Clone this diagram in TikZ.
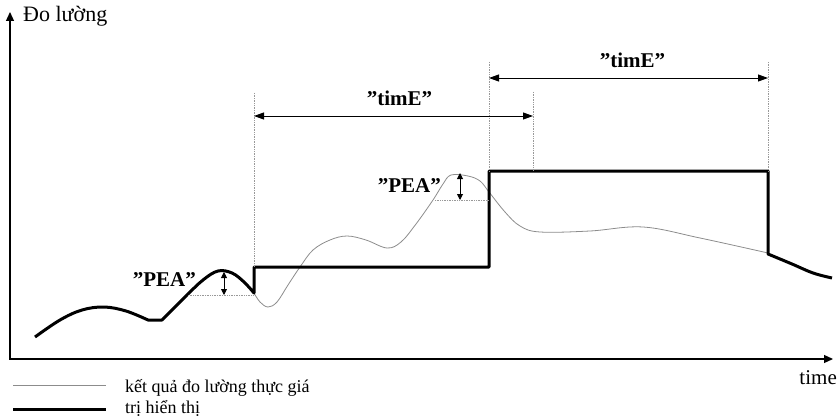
\documentclass[tikz,border=0pt]{standalone}
\usepackage{fontspec}
\setmainfont{Liberation Serif}
\usetikzlibrary{arrows.meta, positioning}

\begin{document}
\begin{tikzpicture}[x=1pt, y=-1pt,
    >={Triangle[length=10pt,width=7pt]},
    every node/.style={inner sep=0pt, font=\fontsize{21}{25}\selectfont},
    axis/.style={line width=1.2pt, {Triangle[length=9pt,width=8pt]}-{Triangle[length=9pt,width=8pt]}},
    measured/.style={draw=gray!90, line width=0.8pt},
    shown/.style={line width=3pt, line join=round},
    guide/.style={draw=gray!80, densely dotted, line width=0.7pt},
    span/.style={<->, line width=0.9pt},
    peak/.style={{Triangle[length=6pt,width=6pt]}-{Triangle[length=6pt,width=6pt]}, line width=0.9pt},
    tag/.style={font=\bfseries\fontsize{21}{25}\selectfont},
    legend/.style={font=\fontsize{18}{21}\selectfont}]

    \useasboundingbox (0,0) rectangle (840,417);

    % axes
    \coordinate (ytip)   at (10,12);
    \coordinate (xtip)   at (833,359);
    \draw[axis] (ytip) |- (xtip);
    \node[anchor=base west, font=\fontsize{22}{26}\selectfont] (ylab) at (23,22)  {Đo lường};
    \node[anchor=base east] (xlab) at (837,384) {time};

    % step corners
    \coordinate (up1)   at (254,267);
    \coordinate (flat1) at (489,267);
    \coordinate (up2)   at (489,171);
    \coordinate (mid2)  at (533,171);
    \coordinate (down2) at (768,171);
    \coordinate (fall)  at (768,254);

    % measured value
    \draw[measured] plot[smooth, tension=0.6] coordinates {(254,293) (260,302) (268,307) (277,302)
        (288,285) (300,267) (313,250) (330,240) (347,236) (366,240) (387,248) (401,242)
        (416,224) (433,200) (443,184) (451,175) (468,176) (480,181) (489,192) (505,212)
        (520,226) (540,232) (590,231) (643,227) (700,238) (768,253)};

    % shown value
    \draw[shown] plot[smooth, tension=0.6] coordinates {(35,337) (60,320) (82,310) (104,307) (126,311) (148,320)}
        -- plot[smooth, tension=0.6] coordinates {(162,320) (185,297) (203,280) (218,271) (232,273) (244,282) (254,293)}
        -- (up1) -- (flat1) -- (up2) -- (down2) -- (fall)
        -- plot[smooth, tension=0.6] coordinates {(768,254) (792,264) (813,273) (832,278)};

    % guides
    \coordinate (g1) at (254,93);
    \coordinate (g2) at (533,92);
    \coordinate (g3) at (489,62);
    \coordinate (g4) at (768,62);
    \coordinate (p1l) at (188,295);
    \coordinate (p1r) at (253,295);
    \coordinate (p2l) at (435,200);
    \coordinate (p2r) at (489,200);
    \path[guide] (g1) edge (up1) (g2) edge (mid2) (g3) edge (up2) (g4) edge (down2)
        (p1l) edge (p1r) (p2l) edge (p2r);

    % spans
    \coordinate (s1l) at (254,116);
    \coordinate (s1r) at (533,116);
    \coordinate (s2l) at (489,78);
    \coordinate (s2r) at (768,78);
    \path[span]
    (s1l) edge node[tag, above=10pt, xshift=6pt] {”timE”} (s1r)
    (s2l) edge node[tag, above=10pt, xshift=4pt] {”timE”} (s2r);

    % peaks
    \coordinate (a1t) at (224,272);
    \coordinate (a1b) at (224,295);
    \coordinate (a2t) at (460,173);
    \coordinate (a2b) at (460,200);
    \path[peak] (a1t) edge (a1b) (a2t) edge (a2b);
    \node[tag, anchor=base east] (pea1) at (196,286) {”PEA”};
    \node[tag, anchor=base east] (pea2) at (441,192) {”PEA”};

    % legend
    \coordinate (l1a) at (13,385);
    \coordinate (l1b) at (106,385);
    \coordinate (l2a) at (13,409);
    \coordinate (l2b) at (106,409);
    \draw[measured] (l1a) -- (l1b);
    \draw[shown] (l2a) -- (l2b);
    \node[legend, anchor=base west] (lmeas)  at (125,392) {kết quả đo lường thực giá};
    \node[legend, anchor=base west] (lshown) at (125,413) {trị hiển thị};
\end{tikzpicture}
\end{document}
